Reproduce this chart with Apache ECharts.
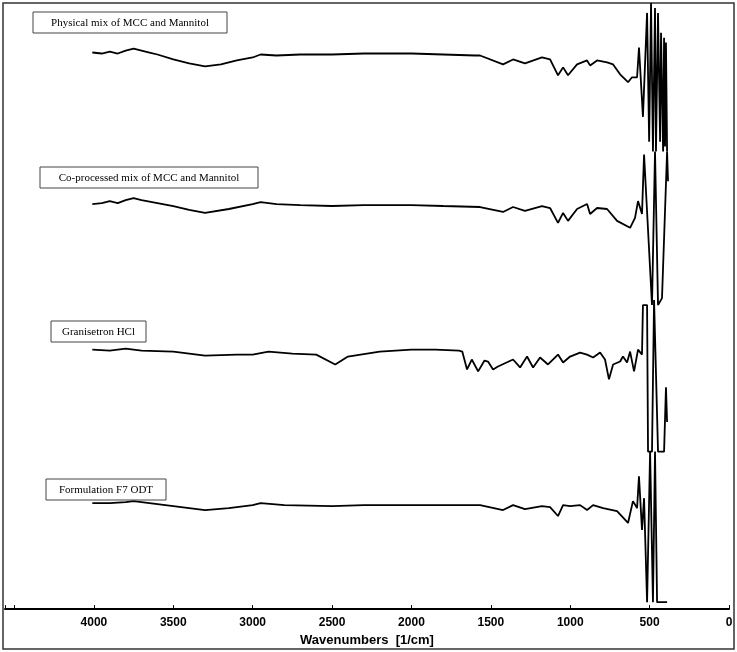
<!DOCTYPE html><html><head><meta charset="utf-8"><script src="https://cdn.jsdelivr.net/npm/echarts@6/dist/echarts.min.js"></script>
<style>body{margin:0;background:#fff}#c{width:737px;height:652px}</style></head><body><div id="c"></div><script>
var labels=['Physical mix of MCC and Mannitol','Co-processed mix of MCC and Mannitol','Granisetron HCl','Formulation F7 ODT'];
var xTicks=[0,500,1000,1500,2000,2500,3000,3500,4000];
// y values: offset-stacked transmittance (axis inverted, arbitrary units)
var physical=[[4010,50],[3950,51],[3900,49],[3850,51],[3800,48],[3750,46],[3700,48],[3650,50],[3600,52],[3500,57],[3400,61],[3300,64],[3200,62],[3100,58],[3000,55],[2950,52],[2850,53],[2700,52],[2500,52],[2300,51],[2000,51],[1800,52],[1600,53],[1568,53],[1423,62],[1360,57],[1285,61],[1178,55],[1127,57],[1077,73],[1045,65],[1014,73],[957,62],[894,58],[875,63],[831,58],[768,60],[730,62],[686,72],[636,80],[611,75],[579,75],[567,45],[542,115],[516,10],[503,140],[491,0],[479,150],[466,5],[460,150],[447,10],[434,140],[428,30],[415,150],[409,35],[403,145],[397,40],[390,150]];
var coprocessed=[[4010,203],[3950,202],[3900,200],[3850,202],[3800,199],[3750,197],[3700,199],[3600,202],[3500,205],[3400,209],[3300,212],[3150,208],[3000,203],[2950,201],[2850,203],[2700,204],[2500,205],[2300,204],[2000,204],[1800,205],[1568,206],[1423,211],[1360,206],[1285,210],[1178,205],[1127,207],[1077,222],[1045,212],[1014,220],[957,208],[894,203],[875,213],[831,207],[768,208],[705,220],[623,227],[592,217],[573,200],[548,213],[535,153],[485,305],[466,150],[447,305],[422,298],[390,150],[384,180]];
var granisetron=[[4010,350],[3900,351],[3800,349],[3700,351],[3500,352],[3400,354],[3300,356],[3100,355],[3000,355],[2900,352],[2750,354],[2600,355],[2480,365],[2400,357],[2200,352],[2000,350],[1850,350],[1700,351],[1680,352],[1650,370],[1620,360],[1580,372],[1540,361],[1518,362],[1486,370],[1455,367],[1360,360],[1316,368],[1272,357],[1234,368],[1190,358],[1140,365],[1077,355],[1045,363],[1001,357],[938,353],[894,355],[856,358],[812,353],[781,360],[756,380],[730,365],[686,362],[668,357],[642,363],[623,352],[598,372],[573,350],[548,355],[542,305],[516,305],[510,453],[485,453],[472,300],[460,300],[447,453],[409,453],[397,388],[390,423]];
var formulation=[[4010,505],[3900,505],[3800,504],[3750,503],[3650,505],[3500,508],[3400,510],[3300,512],[3150,510],[3000,507],[2950,505],[2800,507],[2500,508],[2300,507],[2000,507],[1800,507],[1568,507],[1423,512],[1360,507],[1285,511],[1178,508],[1127,509],[1077,518],[1045,507],[1001,508],[938,507],[894,512],[856,507],[793,510],[705,513],[636,525],[605,503],[579,510],[567,478],[548,532],[535,500],[516,605],[497,453],[479,605],[466,453],[453,605],[390,605]];
var spectra=[physical,coprocessed,granisetron,formulation];
var boxes=[[33,12,194],[40,167,218],[51,321,95],[46,479,120]];
var chart=echarts.init(document.getElementById('c'));
var g=[{type:'rect',shape:{x:3,y:3,width:731,height:646},style:{fill:'none',stroke:'#333',lineWidth:1.5}}];
labels.forEach(function(t,i){var b=boxes[i];
g.push({type:'rect',shape:{x:b[0],y:b[1],width:b[2],height:21},style:{fill:'#fff',stroke:'#444',lineWidth:1},z:10});
g.push({type:'text',x:b[0]+b[2]/2,y:b[1]+11,style:{text:t,fill:'#000',font:'11px "Liberation Serif"',align:'center',verticalAlign:'middle'},z:11});});
chart.setOption({animation:false,
grid:{left:5,right:8,top:3,bottom:40},
xAxis:{type:'value',inverse:true,min:0,max:4560,interval:500,position:'bottom',
axisLine:{onZero:false,lineStyle:{color:'#000',width:2}},axisTick:{inside:true,length:4,lineStyle:{color:'#000'}},splitLine:{show:false},
axisLabel:{color:'#000',fontWeight:'bold',fontFamily:'Liberation Sans',fontSize:12,margin:8,formatter:function(v){return xTicks.indexOf(v)>=0?String(v):'';}},
name:'Wavenumbers  [1/cm]',nameLocation:'middle',nameGap:24,nameTextStyle:{color:'#000',fontWeight:'bold',fontFamily:'Liberation Sans',fontSize:13}},
yAxis:{type:'value',inverse:true,min:0,max:612,show:false},
graphic:g,
series:spectra.map(function(d){return {type:'line',data:d,symbol:'none',lineStyle:{color:'#000',width:1.8}};})
});
</script></body></html>
